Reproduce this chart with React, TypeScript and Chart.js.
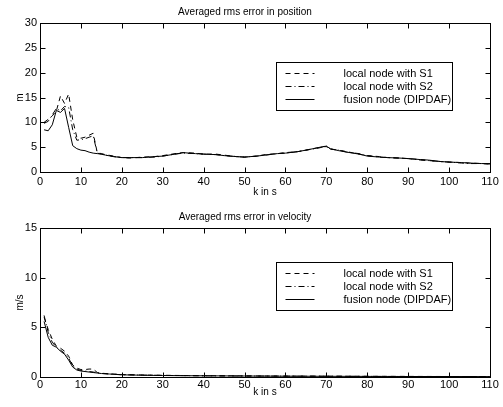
import React, { useEffect, useRef } from "react";
import { Chart, registerables } from "chart.js";

Chart.register(...registerables);

const FONT = "'Liberation Sans', Arial, Helvetica, sans-serif";

const SERIES_LABELS = ["local node with S1", "local node with S2", "fusion node (DIPDAF)"];
const SERIES_DASHES: number[][] = [[5, 4], [6, 3, 1, 3], []];

const X_TICK_STEP = 10;
const X_MAX = 110;

// ---- position error ----
const POS_TITLE = "Averaged rms error in position";
const POS_YLABEL = "m";
const POS_YMAX = 30;
const POS_YSTEP = 5;
const POS_K = [1, 2, 3, 4, 5, 6, 7, 8, 9, 10, 11, 12, 13, 14, 15, 16, 18, 20, 22, 25, 28, 30, 33, 35, 38, 40, 43, 45, 48, 50, 53, 55, 58, 60, 63, 65, 68, 69, 70, 71, 73, 75, 78, 80, 83, 85, 88, 90, 93, 95, 98, 100, 103, 105, 108, 110];
const POS_S1 = [10.0, 10.6, 11.3, 12.3, 15.3, 13.8, 15.7, 10.5, 7.0, 6.8, 7.0, 7.4, 7.8, 3.9, 3.7, 3.5, 3.2, 2.9, 2.8, 3.0, 3.1, 3.3, 3.7, 3.9, 3.8, 3.6, 3.6, 3.4, 3.1, 3.0, 3.2, 3.5, 3.7, 3.9, 4.1, 4.4, 4.9, 5.1, 5.1, 4.6, 4.4, 4.1, 3.6, 3.3, 3.1, 2.9, 2.8, 2.7, 2.5, 2.3, 2.1, 2.0, 1.9, 1.8, 1.7, 1.6];
const POS_S2 = [9.8, 10.2, 11.5, 12.8, 12.3, 13.2, 13.0, 8.5, 6.4, 6.5, 6.7, 7.0, 7.3, 3.8, 3.6, 3.4, 3.1, 2.9, 2.9, 2.9, 3.0, 3.2, 3.6, 3.8, 3.7, 3.6, 3.5, 3.3, 3.1, 3.0, 3.2, 3.4, 3.7, 3.8, 4.1, 4.4, 4.8, 5.0, 5.2, 4.6, 4.4, 4.0, 3.7, 3.3, 3.0, 2.9, 2.8, 2.7, 2.4, 2.3, 2.1, 2.0, 1.8, 1.7, 1.7, 1.6];
const POS_FUSION = [8.5, 8.3, 9.5, 12.4, 12.0, 12.8, 9.0, 5.3, 4.7, 4.4, 4.3, 4.0, 3.8, 3.7, 3.6, 3.4, 3.1, 2.9, 2.9, 2.9, 3.1, 3.2, 3.6, 3.9, 3.7, 3.6, 3.5, 3.3, 3.1, 3.0, 3.2, 3.4, 3.7, 3.8, 4.1, 4.4, 4.9, 5.1, 5.2, 4.7, 4.3, 4.0, 3.6, 3.2, 3.0, 2.9, 2.8, 2.7, 2.5, 2.4, 2.1, 2.0, 1.9, 1.8, 1.7, 1.7];

// ---- velocity error ----
const VEL_TITLE = "Averaged rms error in velocity";
const VEL_YLABEL = "m/s";
const VEL_YMAX = 15;
const VEL_YSTEP = 5;
const VEL_K = [1, 2, 3, 4, 5, 6, 7, 8, 9, 10, 11, 12, 13, 14, 15, 17, 20, 25, 30, 35, 40, 50, 60, 70, 80, 90, 100, 110];
const VEL_S1 = [6.0, 4.8, 3.8, 3.1, 2.9, 2.6, 2.1, 1.2, 0.9, 0.75, 0.75, 0.8, 0.8, 0.45, 0.38, 0.32, 0.25, 0.2, 0.17, 0.15, 0.13, 0.11, 0.09, 0.08, 0.07, 0.06, 0.05, 0.05];
const VEL_S2 = [6.2, 4.5, 3.5, 3.0, 2.7, 2.4, 1.9, 1.1, 0.8, 0.65, 0.6, 0.55, 0.5, 0.42, 0.36, 0.3, 0.23, 0.19, 0.16, 0.14, 0.12, 0.1, 0.09, 0.08, 0.06, 0.05, 0.05, 0.04];
const VEL_FUSION = [5.6, 4.0, 3.2, 3.0, 2.6, 2.3, 1.7, 1.0, 0.7, 0.6, 0.55, 0.5, 0.45, 0.4, 0.35, 0.3, 0.22, 0.18, 0.15, 0.13, 0.12, 0.1, 0.08, 0.07, 0.06, 0.05, 0.05, 0.04];

const matlabPlugin = {
  id: "matlabBox",
  afterDraw(chart: any, _args: any, opts: any) {
    const ctx = chart.ctx as CanvasRenderingContext2D;
    const { left, right, top, bottom } = chart.chartArea;
    const L = Math.round(left) + 0.5;
    const R = Math.round(right) + 0.5;
    const T = Math.round(top) + 0.5;
    const B = Math.round(bottom) + 0.5;
    ctx.save();
    ctx.strokeStyle = "#000";
    ctx.lineWidth = 1;
    ctx.setLineDash([]);
    ctx.strokeRect(L, T, R - L, B - T);
    const tl = 5;
    const line = (x1: number, y1: number, x2: number, y2: number) => {
      ctx.beginPath();
      ctx.moveTo(x1, y1);
      ctx.lineTo(x2, y2);
      ctx.stroke();
    };
    const xs = chart.scales.x;
    xs.ticks.forEach((t: any) => {
      const x = Math.round(xs.getPixelForValue(t.value)) + 0.5;
      line(x, B, x, B - tl);
      line(x, T, x, T + tl);
    });
    const ys = chart.scales.y;
    ys.ticks.forEach((t: any) => {
      const y = Math.round(ys.getPixelForValue(t.value)) + 0.5;
      line(L, y, L + tl, y);
      line(R, y, R - tl, y);
    });

    // legend box
    const lg = opts.legend;
    const bx = Math.round(left + lg.dx) + 0.5;
    const by = Math.round(top + lg.dy) + 0.5;
    ctx.fillStyle = "#fff";
    ctx.fillRect(bx, by, lg.w, lg.h);
    ctx.strokeRect(bx, by, lg.w, lg.h);
    ctx.font = `${lg.fontSize}px ${FONT}`;
    ctx.textBaseline = "middle";
    ctx.textAlign = "left";
    ctx.fillStyle = "#000";
    chart.data.datasets.forEach((ds: any, i: number) => {
      const ry = Math.round(by + lg.row0 + i * lg.rowGap) + 0.5;
      ctx.setLineDash(ds.borderDash || []);
      line(bx + lg.s0, ry, bx + lg.s1, ry);
      ctx.setLineDash([]);
      ctx.fillText(ds.label, bx + lg.tx, ry);
    });
    ctx.restore();
  },
};

type PanelProps = {
  height: number;
  top: number;
  title: string;
  ylabel: string;
  ymax: number;
  ystep: number;
  k: number[];
  series: number[][];
  titlePad: { top: number; bottom: number };
  xAxisHeight: number;
  xTickPad: number;
  xTitlePadBottom: number;
  legendDy: number;
};

function Panel(p: PanelProps) {
  const ref = useRef<HTMLCanvasElement | null>(null);
  useEffect(() => {
    if (!ref.current) return;
    const datasets = p.series.map((vals, i) => ({
      label: SERIES_LABELS[i],
      data: p.k.map((kv, j) => ({ x: kv, y: vals[j] })),
      borderColor: "#000",
      backgroundColor: "#000",
      borderWidth: 1,
      borderDash: SERIES_DASHES[i],
      pointRadius: 0,
      tension: 0,
      fill: false,
    }));
    const chart = new Chart(ref.current, {
      type: "line",
      data: { datasets },
      plugins: [matlabPlugin],
      options: {
        animation: false,
        responsive: false,
        devicePixelRatio: 1,
        layout: { padding: { left: 0, right: 13, top: 0, bottom: 0 } },
        plugins: {
          legend: { display: false },
          tooltip: { enabled: false },
          title: {
            display: true,
            text: p.title,
            color: "#000",
            font: { family: FONT, size: 10, weight: "normal" },
            padding: p.titlePad,
          },
          matlabBox: {
            legend: { dx: 236, dy: p.legendDy, w: 176, h: 48, s0: 9, s1: 38, tx: 67, row0: 10, rowGap: 13, fontSize: 11 },
          },
        } as any,
        scales: {
          x: {
            type: "linear",
            min: 0,
            max: X_MAX,
            grid: { display: false, drawTicks: false },
            border: { display: false },
            ticks: { stepSize: X_TICK_STEP, color: "#000", padding: p.xTickPad, maxRotation: 0, font: { family: FONT, size: 11 } },
            title: { display: true, text: "k in s", color: "#000", font: { family: FONT, size: 10 }, padding: { top: 0, bottom: p.xTitlePadBottom } },
            afterFit: (s: any) => { s.height = p.xAxisHeight; },
          },
          y: {
            type: "linear",
            min: 0,
            max: p.ymax,
            grid: { display: false, drawTicks: false },
            border: { display: false },
            ticks: { stepSize: p.ystep, color: "#000", padding: 3, font: { family: FONT, size: 11 } },
            title: { display: true, text: p.ylabel, color: "#000", font: { family: FONT, size: 10 }, padding: { top: 14, bottom: 0 } },
            afterFit: (s: any) => { s.width = 40; },
          },
        },
      } as any,
    });
    return () => chart.destroy();
  }, []);
  return (
    <canvas
      ref={ref}
      width={503}
      height={p.height}
      style={{ position: "absolute", left: 0, top: p.top, width: 503, height: p.height }}
    />
  );
}

export default function App() {
  return (
    <div style={{ position: "absolute", left: 0, top: 0, width: 503, height: 407, background: "#fff", overflow: "hidden" }}>
      <Panel
        height={200}
        top={0}
        title={POS_TITLE}
        ylabel={POS_YLABEL}
        ymax={POS_YMAX}
        ystep={POS_YSTEP}
        k={POS_K}
        series={[POS_S1, POS_S2, POS_FUSION]}
        titlePad={{ top: 6, bottom: 5 }}
        xAxisHeight={28}
        xTickPad={3}
        xTitlePadBottom={2}
        legendDy={39}
      />
      <Panel
        height={207}
        top={200}
        title={VEL_TITLE}
        ylabel={VEL_YLABEL}
        ymax={VEL_YMAX}
        ystep={VEL_YSTEP}
        k={VEL_K}
        series={[VEL_S1, VEL_S2, VEL_FUSION]}
        titlePad={{ top: 11, bottom: 5 }}
        xAxisHeight={30}
        xTickPad={1}
        xTitlePadBottom={9}
        legendDy={34}
      />
    </div>
  );
}
